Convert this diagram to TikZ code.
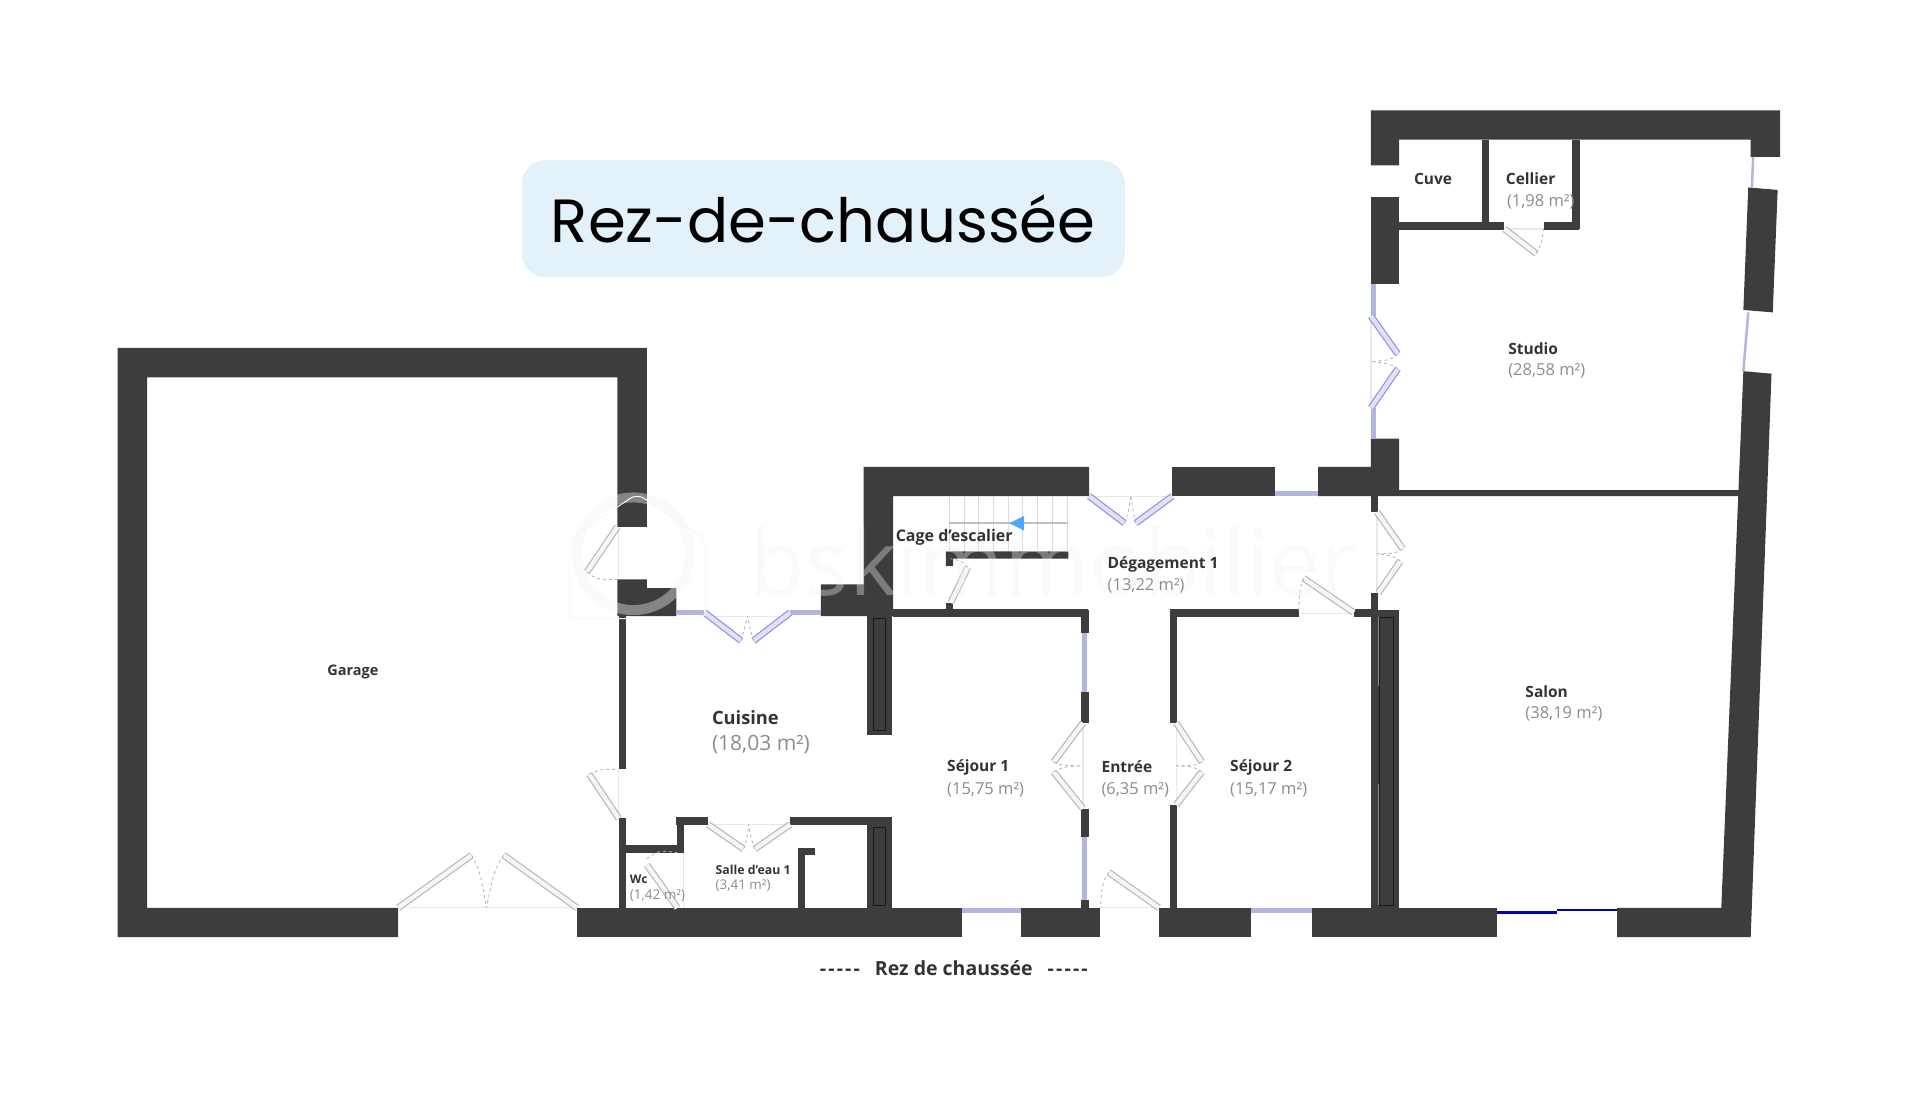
\documentclass[tikz,border=0pt]{standalone}
\usepackage{fontspec}
\setmainfont{Open Sans}
\newfontfamily\titlefont{Poppins}
\usetikzlibrary{positioning}
\definecolor{wallc}{HTML}{3D3D3D}
\definecolor{winc}{HTML}{B4B4E0}
\definecolor{areac}{HTML}{8C8C8C}
\definecolor{titrec}{HTML}{E3F1FB}
\tikzset{
  wall/.style={fill=wallc,draw=none},
  thinwall/.style={draw=wallc,line width=7.4pt},
  win/.style={draw=winc,line width=5pt},
  leaf/.style={draw=black!28,double=black!4,double distance=4.4pt,line width=1.2pt},
  bluleaf/.style={draw=winc!80!blue,double=winc!40,double distance=4.4pt,line width=1.2pt},
  swing/.style={draw=black!30,line width=.8pt,dash pattern=on 3pt off 3pt},
  sill/.style={draw=black!9,line width=1.2pt},
  tread/.style={draw=black!14,line width=1pt},
  room/.style={font=\bfseries\fontsize{15.5}{17}\selectfont,text=black!80,anchor=west,inner sep=0pt},
  surf/.style={font=\fontsize{16.5}{18}\selectfont,text=areac,anchor=west,inner sep=0pt}
}
\newcommand{\tirets}{-\kern2.2pt-\kern2.2pt-\kern2.2pt-\kern2.2pt-}
\begin{document}
\begin{tikzpicture}[x=1.2251pt,y=-1.2251pt]
\useasboundingbox (0,0) rectangle (1567.2,914.2);
% title
\node (titre) [fill=titrec,rounded corners=24pt,minimum width=603pt,minimum height=117pt,inner sep=0pt,font=\titlefont\fontsize{61}{70}\selectfont] at (672,178.5) {\raisebox{-3pt}{Rez-de-chauss\'ee}};
% outer walls
\fill [wall] (96,284) -- (528,284) -- (528,430) -- (504,430) -- (504,308) -- (120,308) -- (120,741) -- (325,741) -- (325,765) -- (96,765) -- cycle;
\fill [wall] (504,473) -- (528,473) -- (528,480) -- (552,480) -- (552,503) -- (504,503) -- cycle;
\fill [wall] (471,741) -- (785,741) -- (785,765) -- (471,765) -- cycle;
\fill [wall] (833,741) -- (898,741) -- (898,765) -- (833,765) -- cycle;
\fill [wall] (946,741) -- (1021,741) -- (1021,765) -- (946,765) -- cycle;
\fill [wall] (1071,741) -- (1222,741) -- (1222,765) -- (1071,765) -- cycle;
\fill [wall] (1320,741) -- (1405,741) -- (1423,303) -- (1446,305) -- (1429,765) -- (1320,765) -- cycle;
\fill [wall] (1427,153) -- (1451,155) -- (1447,255) -- (1423,253) -- cycle;
\fill [wall] (670,477) -- (705,477) -- (705,381) -- (889,381) -- (889,405) -- (729,405) -- (729,503) -- (670,503) -- cycle;
\fill [wall] (957,381) -- (1041,381) -- (1041,405) -- (957,405) -- cycle;
\fill [wall] (1076,381) -- (1119,381) -- (1119,358) -- (1142,358) -- (1142,400) -- (1420,400) -- (1420,405) -- (1076,405) -- cycle;
\fill [wall] (1119,90) -- (1453,90) -- (1453,128) -- (1429,128) -- (1429,114) -- (1142,114) -- (1142,135) -- (1119,135) -- cycle;
\fill [wall] (1119,161) -- (1142,161) -- (1142,232) -- (1119,232) -- cycle;
% inner walls
\fill [wall] (708,503) -- (728,503) -- (728,600) -- (708,600) -- cycle;
\fill [wall] (708,667) -- (728,667) -- (728,741) -- (708,741) -- cycle;
\fill [wall] (1119,498) -- (1142,498) -- (1142,741) -- (1119,741) -- cycle;
\draw [black!90,line width=.8pt] (713,505) rectangle (723,596);
\draw [black!90,line width=.8pt] (713,675) rectangle (723,739);
\draw [black!90,line width=.8pt] (1126,504) rectangle (1137,739);
\draw [black!45,line width=.8pt] (1125.5,504) -- (1125.5,560);
\draw [black!45,line width=.8pt] (1125.5,640) -- (1125.5,739);
\draw [thinwall] (729,500.5) -- (888,500.5);
\draw [thinwall] (885.5,498) -- (885.5,517);
\draw [thinwall] (885.5,565) -- (885.5,590);
\draw [thinwall] (885.5,660) -- (885.5,683);
\draw [thinwall] (885.5,735) -- (885.5,741);
\draw [thinwall] (955,500.5) -- (1060,500.5);
\draw [thinwall] (1105,500.5) -- (1120,500.5);
\draw [thinwall] (958,498) -- (958,590);
\draw [thinwall] (958,657) -- (958,741);
\draw [thinwall] (508,503) -- (508,628);
\draw [thinwall] (508,668) -- (508,741);
\draw [thinwall] (505,693) -- (558,693);
\draw [thinwall] (555.5,695) -- (555.5,667);
\draw [thinwall] (552,670) -- (578,670);
\draw [thinwall] (645,670) -- (728,670);
\draw [thinwall] (654,741) -- (654,692);
\draw [thinwall] (651,695) -- (665,695);
\draw [thinwall] (1122,405) -- (1122,418);
\draw [thinwall] (1122,484) -- (1122,500);
\draw [thinwall] (1212.5,114) -- (1212.5,184);
\draw [thinwall] (1286.5,114) -- (1286.5,187);
\draw [thinwall] (1142,184.5) -- (1228,184.5);
\draw [thinwall] (1260,184.5) -- (1289,184.5);
% stair
\foreach \xs in {775,787,...,871} \draw [tread] (\xs,405) -- (\xs,450);
\draw [draw=black!25,line width=1.4pt] (872,427) -- (775,427);
\fill [blue!50!cyan!70] (824,427) -- (836,421) -- (836,433) -- cycle;
\fill [wall] (772,450) -- (872,450) -- (872,456) -- (778,456) -- (778,462) -- (772,462) -- cycle;
\fill [wall] (772,492) -- (778,492) -- (778,498) -- (772,498) -- cycle;
% windows
\draw [win] (1041,403) -- (1076,403);
\draw [win] (552,500) -- (575,500);
\draw [win] (645,500) -- (670,500);
\draw [win] (785,743) -- (833,743);
\draw [win] (1021,743) -- (1071,743);
\draw [win] (885,517) -- (885,565);
\draw [win] (885,683) -- (885,735);
\draw [win] (1121,232) -- (1121,258);
\draw [win] (1121,333) -- (1121,358);
\draw [win,line width=2.5pt] (1431,128) -- (1430,153);
\draw [win,line width=2.5pt] (1427,255) -- (1423,303);
\draw [draw=blue!70!black,line width=2.5pt] (1222,745) -- (1271,745);
\draw [draw=blue!70!black,line width=2pt] (1271,743) -- (1320,743);
% door sills
\draw [sill] (325,741) -- (471,741);
\draw [sill] (505,430) -- (505,473);
\draw [sill] (505,628) -- (505,668);
\draw [sill] (575,503) -- (645,503);
\draw [sill] (578,673) -- (645,673);
\draw [sill] (898,741) -- (946,741);
\draw [sill] (889,405) -- (957,405);
\draw [sill] (884,590) -- (884,660);
\draw [sill] (960,590) -- (960,657);
\draw [sill] (1060,501) -- (1105,501);
\draw [sill] (1124,418) -- (1124,484);
\draw [sill] (1228,187) -- (1260,187);
\draw [sill] (1119,258) -- (1119,333);
\draw [sill] (558,696) -- (558,741);
% door leaves
\draw [leaf] (325,741) -- (385,698);
\draw [leaf] (471,741) -- (411,698);
\draw [swing] (385,698) .. controls (392,712) .. (397,741);
\draw [swing] (411,698) .. controls (403,712) .. (397,741);
\draw [leaf] (504,430) -- (479,467);
\draw [swing] (479,467) .. controls (487,473) .. (504,473);
\draw [leaf] (505,668) -- (481,632);
\draw [swing] (481,632) .. controls (490,628) .. (505,628);
\draw [leaf] (553,741) -- (528,706);
\draw [swing] (528,701) .. controls (538,694) .. (553,696);
\draw [bluleaf] (575,500) -- (605,523);
\draw [bluleaf] (645,500) -- (615,523);
\draw [swing] (605,523) .. controls (608,512) .. (610,503);
\draw [swing] (615,523) .. controls (612,512) .. (610,503);
\draw [leaf] (578,673) -- (607,693);
\draw [leaf] (645,673) -- (616,693);
\draw [swing] (607,693) .. controls (610,684) .. (611,673);
\draw [swing] (616,693) .. controls (613,684) .. (611,673);
\draw [leaf] (884,590) -- (860,622);
\draw [leaf] (884,660) -- (860,630);
\draw [swing] (860,622) .. controls (868,625) .. (884,625);
\draw [swing] (860,630) .. controls (868,626) .. (884,625);
\draw [leaf] (960,590) -- (981,622);
\draw [leaf] (960,657) -- (981,630);
\draw [swing] (981,622) .. controls (975,625) .. (960,625);
\draw [swing] (981,630) .. controls (975,626) .. (960,625);
\draw [leaf] (946,741) -- (905,712);
\draw [swing] (905,712) .. controls (900,720) .. (898,741);
\draw [leaf] (776,492) -- (790,463);
\draw [swing] (790,463) .. controls (785,458) .. (776,456);
\draw [bluleaf] (889,405) -- (918,427);
\draw [bluleaf] (957,405) -- (927,427);
\draw [swing] (918,427) .. controls (921,418) .. (923,405);
\draw [swing] (927,427) .. controls (925,418) .. (923,405);
\draw [leaf] (1105,500) -- (1064,472);
\draw [swing] (1064,472) .. controls (1061,480) .. (1060,500);
\draw [leaf] (1124,418) -- (1145,448);
\draw [leaf] (1125,484) -- (1143,458);
\draw [swing] (1145,448) .. controls (1138,452) .. (1124,452);
\draw [swing] (1143,458) .. controls (1138,454) .. (1124,452);
\draw [bluleaf] (1119,258) -- (1141,289);
\draw [bluleaf] (1119,333) -- (1141,301);
\draw [swing] (1141,289) .. controls (1135,294) .. (1119,295);
\draw [swing] (1141,301) .. controls (1135,297) .. (1119,295);
\draw [leaf] (1228,187) -- (1254,207);
\draw [swing] (1254,207) .. controls (1258,200) .. (1260,187);
% watermark
\node (filigrane) [text=black!5,opacity=.35,anchor=west,inner sep=0pt,font=\fontsize{91}{95}\selectfont] at (612,458) {bskimmobilier};
\draw [black!5,opacity=.4,line width=10pt] (517,452) circle (46);
\draw [black!3,line width=1pt,rounded corners=8pt] (465,440) -- (520,403) -- (576,440) -- (576,505) -- (465,505) -- cycle;
% labels
\node (garage) [room,font=\bfseries\fontsize{14.5}{16}\selectfont] at (267,548.5) {Garage};
\node (cuisine) [room,font=\bfseries\fontsize{18.3}{20}\selectfont] at (581,585.5) {Cuisine};
\node (cuisinem) [surf,font=\fontsize{21}{23}\selectfont] at (581,607.5) {(18,03 m²)};
\node (cage) [room,font=\bfseries\fontsize{16}{18}\selectfont] at (731,438.5) {Cage d'escalier};
\node (deg) [room] at (904,460.5) {Dégagement 1};
\node (degm) [surf] at (904,478.5) {(13,22 m²)};
\node (sej1) [room] at (773,626.5) {Séjour 1};
\node (sej1m) [surf] at (773,644.5) {(15,75 m²)};
\node (entree) [room] at (899,626) {Entrée};
\node (entreem) [surf] at (899,644.5) {(6,35 m²)};
\node (sej2) [room] at (1004,626.5) {Séjour 2};
\node (sej2m) [surf] at (1004,644.5) {(15,17 m²)};
\node (salon) [room] at (1245,564.5) {Salon};
\node (salonm) [surf] at (1245,582.5) {(38,19 m²)};
\node (studio) [room] at (1231,285) {Studio};
\node (studiom) [surf] at (1231,302.5) {(28,58 m²)};
\node (cuve) [room] at (1154,146) {Cuve};
\node (cellier) [room] at (1229,146) {Cellier};
\node (celm) [surf] at (1230,164.5) {(1,98 m²)};
\node (wc) [room,font=\bfseries\fontsize{12}{14}\selectfont] at (514,718) {Wc};
\node (wcm) [surf,font=\fontsize{13.5}{15}\selectfont] at (514,731) {(1,42 m²)};
\node (sde) [room,font=\bfseries\fontsize{12.3}{14}\selectfont] at (584,710) {Salle d'eau 1};
\node (sdem) [surf,font=\fontsize{13.4}{15}\selectfont] at (584,723) {(3,41 m²)};
\node (legende) [room,font=\bfseries\fontsize{19.5}{22}\selectfont] at (669,790) {\tirets\hspace{15pt}Rez de chaussée\hspace{15pt}\tirets};
\end{tikzpicture}
\end{document}
